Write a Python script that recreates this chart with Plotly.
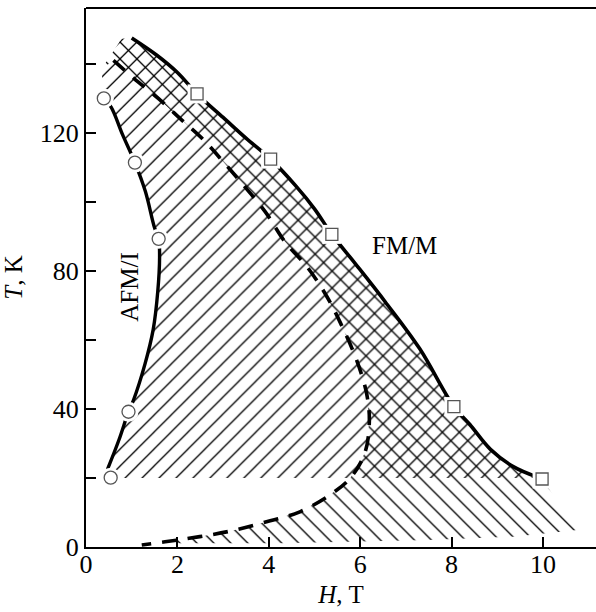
import plotly.graph_objects as go

# ---------------- data ----------------
# AFM/I boundary: open-circle points and the solid curve through them
afm_pts_H = [0.39, 1.07, 1.59, 0.93, 0.54]
afm_pts_T = [130.0, 111.4, 89.3, 39.2, 20.1]
afm_curve_H = [0.39, 0.55, 0.80, 1.07, 1.30, 1.50, 1.59, 1.61, 1.57, 1.47, 1.29, 1.04, 0.93, 0.72, 0.47]
afm_curve_T = [130.0, 127.5, 119.5, 111.4, 103.0, 92.5, 89.3, 84.0, 74.0, 63.0, 53.0, 42.6, 39.2, 31.0, 22.5]

# FM/M boundary: open-square points and the solid curve
fm_pts_H = [2.43, 4.04, 5.38, 8.05, 9.98]
fm_pts_T = [131.3, 112.4, 90.6, 40.7, 19.7]
fm_curve_H = [1.00, 1.55, 2.00, 2.43, 3.00, 3.50, 4.04, 4.60, 5.00, 5.38, 5.90, 6.55, 7.30, 8.05, 8.40, 8.85, 9.35, 9.85]
fm_curve_T = [147.5, 142.5, 137.5, 131.3, 124.5, 118.5, 112.4, 104.5, 98.0, 90.6, 82.0, 71.0, 57.5, 40.7, 35.5, 28.3, 23.3, 20.4]

# dashed boundary
dash_H = [0.60, 1.04, 1.58, 2.09, 2.57, 3.00, 3.41, 3.92, 4.35, 4.86, 5.27, 5.59, 5.92, 6.14,
          6.20, 6.10, 5.78, 5.34, 4.68, 3.95, 3.19, 2.49, 1.73, 1.22]
dash_T = [141.0, 135.9, 130.0, 123.8, 118.0, 111.7, 105.4, 97.2, 88.5, 80.8, 72.6, 64.3, 54.2, 44.5,
          36.3, 27.2, 19.9, 15.1, 10.2, 7.3, 4.7, 3.0, 1.5, 0.6]

# hatched-region extra corners
hatch_floor_T = 20.0          # lower edge of the "/" hatched region
top_left_H = [0.34, 0.78]     # upper-left corner of the hatched regions
top_left_T = [138.5, 147.3]
b_bottom_H = [10.75, 9.35, 7.50, 4.24, 1.80]   # lower edge of "\" hatched region
b_bottom_T = [4.9, 3.0, 2.0, 1.1, 1.1]

x_tick_vals = [0, 2, 4, 6, 8, 10]
x_tick_text = ["0", "2", "4", "6", "8", "10"]
y_tick_vals = [0, 20, 40, 60, 80, 100, 120, 140]
y_tick_text = ["0", "", "40", "", "80", "", "120", ""]

FONT = "Liberation Serif"

fig = go.Figure()

# ---------- region A: "/" hatch (between AFM/I curve and FM/M curve, above T=20) ----------
a_H = ([afm_curve_H[-1] + 0.08] + afm_curve_H[::-1] + top_left_H + fm_curve_H + [fm_curve_H[-1]])
a_T = ([hatch_floor_T] + afm_curve_T[::-1] + top_left_T + fm_curve_T + [hatch_floor_T])
fig.add_trace(go.Scatter(
    x=a_H, y=a_T, mode="none", fill="toself", fillcolor="rgba(0,0,0,0)",
    fillpattern=dict(shape="/", fgcolor="black", bgcolor="rgba(255,255,255,0)",
                     size=12, solidity=0.11, fillmode="replace"),
    hoverinfo="skip"))

# ---------- region B: "\" hatch (right of dashed line, left of FM/M curve) ----------
b_H = (top_left_H + fm_curve_H + [fm_pts_H[-1]] + b_bottom_H + dash_H[::-1][1:] + [top_left_H[0]])
b_T = (top_left_T + fm_curve_T + [fm_pts_T[-1]] + b_bottom_T + dash_T[::-1][1:] + [top_left_T[0]])
fig.add_trace(go.Scatter(
    x=b_H, y=b_T, mode="none", fill="toself", fillcolor="rgba(0,0,0,0)",
    fillpattern=dict(shape="\\", fgcolor="black", bgcolor="rgba(255,255,255,0)",
                     size=12, solidity=0.11, fillmode="replace"),
    hoverinfo="skip"))

# ---------- boundary lines ----------
fig.add_trace(go.Scatter(x=afm_curve_H, y=afm_curve_T, mode="lines",
                         line=dict(color="black", width=3.4, shape="spline"), hoverinfo="skip"))
fig.add_trace(go.Scatter(x=fm_curve_H, y=fm_curve_T, mode="lines",
                         line=dict(color="black", width=3.6, shape="spline"), hoverinfo="skip"))
fig.add_trace(go.Scatter(x=dash_H, y=dash_T, mode="lines",
                         line=dict(color="black", width=3.6, shape="spline", dash="15px,11px"),
                         hoverinfo="skip"))

# ---------- white halos then markers ----------
fig.add_trace(go.Scatter(x=afm_pts_H, y=afm_pts_T, mode="markers",
                         marker=dict(symbol="circle", size=20, color="white", line=dict(width=0)),
                         hoverinfo="skip"))
fig.add_trace(go.Scatter(x=fm_pts_H, y=fm_pts_T, mode="markers",
                         marker=dict(symbol="square", size=19, color="white", line=dict(width=0)),
                         hoverinfo="skip"))
fig.add_trace(go.Scatter(x=afm_pts_H, y=afm_pts_T, mode="markers",
                         marker=dict(symbol="circle", size=13, color="white",
                                     line=dict(width=1.3, color="#555555")),
                         hoverinfo="skip"))
fig.add_trace(go.Scatter(x=fm_pts_H, y=fm_pts_T, mode="markers",
                         marker=dict(symbol="square", size=12, color="white",
                                     line=dict(width=1.3, color="#555555")),
                         hoverinfo="skip"))

# ---------- labels ----------
fig.add_annotation(x=0.96, y=75.4, text="AFM/I", textangle=-90, showarrow=False,
                   font=dict(family=FONT, size=25, color="black"))
fig.add_annotation(x=6.96, y=87.5, text="FM/M", showarrow=False,
                   font=dict(family=FONT, size=25, color="black"))

# top frame line
fig.add_shape(type="line", xref="paper", yref="paper", x0=0, x1=1, y0=1, y1=1,
              line=dict(color="black", width=2))

fig.update_layout(
    width=596, height=612,
    margin=dict(l=86, r=0, t=8, b=65),
    paper_bgcolor="white", plot_bgcolor="white",
    showlegend=False,
    font=dict(family=FONT, color="black"),
    xaxis=dict(range=[0, 11.16], tickvals=x_tick_vals, ticktext=x_tick_text,
               ticks="inside", ticklen=10, tickwidth=1.5, tickcolor="black",
               showline=True, linewidth=2, linecolor="black",
               showgrid=False, zeroline=False, ticklabelstandoff=-7,
               tickfont=dict(family=FONT, size=26, color="black"),
               title=dict(text="<i>H</i>, T", standoff=7,
                          font=dict(family=FONT, size=25, color="black"))),
    yaxis=dict(range=[0, 156.2], tickvals=y_tick_vals, ticktext=y_tick_text,
               ticks="inside", ticklen=10, tickwidth=1.5, tickcolor="black",
               showline=True, linewidth=2, linecolor="black",
               showgrid=False, zeroline=False, ticklabelstandoff=0,
               tickfont=dict(family=FONT, size=26, color="black"),
               title=dict(text="<i>T</i>, K", standoff=12,
                          font=dict(family=FONT, size=25, color="black"))),
)

fig.write_html("out.html")
